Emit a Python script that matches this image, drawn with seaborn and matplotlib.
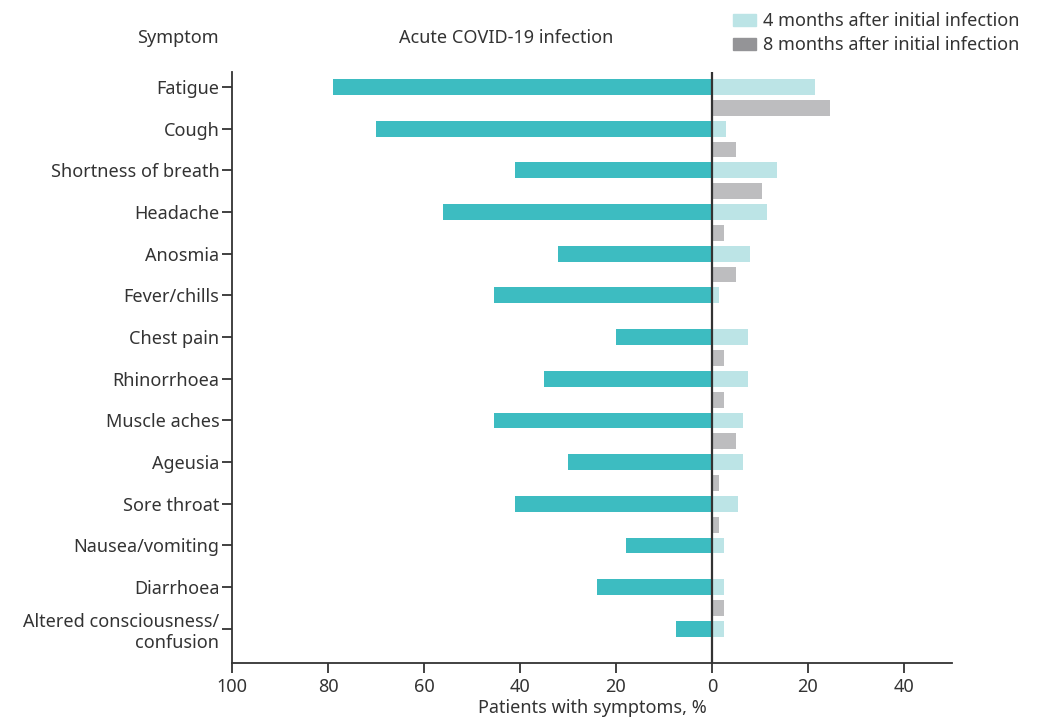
import matplotlib
matplotlib.use("Agg")
import matplotlib.pyplot as plt
from matplotlib.patches import Patch
import seaborn as sns
import pandas as pd

symptoms = ["Fatigue", "Cough", "Shortness of breath", "Headache", "Anosmia",
            "Fever/chills", "Chest pain", "Rhinorrhoea", "Muscle aches", "Ageusia",
            "Sore throat", "Nausea/vomiting", "Diarrhoea",
            "Altered consciousness/\nconfusion"]
acute = [79, 70, 41, 56, 32, 45.5, 20, 35, 45.5, 30, 41, 18, 24, 7.5]
months4 = [21.5, 3, 13.5, 11.5, 8, 1.5, 7.5, 7.5, 6.5, 6.5, 5.5, 2.5, 2.5, 2.5]
months8 = [24.5, 5, 10.5, 2.5, 5, 0, 2.5, 2.5, 5, 1.5, 1.5, 0, 2.5, 0]

TEAL = "#3dbcc1"
LIGHT = "#bce4e6"
GRAY = "#bdbdbf"
GRAY_LEG = "#949497"
DARK = "#333333"
FS = 13

sns.set_theme(style="white")
plt.rcParams["font.family"] = ["Noto Sans", "DejaVu Sans"]
plt.rcParams["text.color"] = DARK
plt.rcParams["axes.labelcolor"] = DARK
plt.rcParams["xtick.color"] = DARK
plt.rcParams["ytick.color"] = DARK

pos = list(range(len(symptoms)))
df_acute = pd.DataFrame({"pos": pos, "val": [-v for v in acute]})
df_4 = pd.DataFrame({"pos": pos, "val": months4})
df_8 = pd.DataFrame({"pos": [p + 0.5 for p in pos], "val": months8})

fig = plt.figure(figsize=(10.42, 7.23), dpi=100)
ax = fig.add_axes([0.2226, 0.083, 0.691, 0.8174])

for d, c in [(df_acute, TEAL), (df_4, LIGHT), (df_8, GRAY)]:
    sns.barplot(data=d, x="val", y="pos", orient="h", native_scale=True,
                width=0.38, color=c, errorbar=None, saturation=1,
                linewidth=0, ax=ax)

ax.axvline(0, color=DARK, lw=1.6, zorder=5)
ax.set_xlim(-100, 50)
ax.set_ylim(13.82, -0.36)
ax.set_xticks(range(-100, 41, 20))
ax.set_xticklabels([str(abs(t)) for t in range(-100, 41, 20)], fontsize=FS)
ax.set_yticks(pos)
ax.set_yticklabels(symptoms, fontsize=FS, ha="right", linespacing=1.25)
ax.set_xlabel("Patients with symptoms, %", fontsize=FS, labelpad=2)
ax.set_ylabel("")
ax.tick_params(axis="x", direction="out", length=7, width=1.3, pad=4)
ax.tick_params(axis="y", direction="out", length=7, width=1.3, pad=2)
ax.tick_params(bottom=True, left=True)
sns.despine(ax=ax)
for s in ["left", "bottom"]:
    ax.spines[s].set_color(DARK)
    ax.spines[s].set_linewidth(1.3)

fig.text(178 / 1042, 1 - 38 / 723, "Symptom", ha="center", va="center", fontsize=FS)
fig.text(506 / 1042, 1 - 38 / 723, "Acute COVID-19 infection", ha="center",
         va="center", fontsize=FS)

handles = [Patch(color=LIGHT, label="4 months after initial infection"),
           Patch(color=GRAY_LEG, label="8 months after initial infection")]
fig.legend(handles=handles, loc="upper left", bbox_to_anchor=(0.6967, 0.993),
           frameon=False, fontsize=FS, handlelength=1.27, handleheight=0.7,
           handletextpad=0.4, labelspacing=0.33, borderaxespad=0)

fig.savefig("out.png", dpi=100)
